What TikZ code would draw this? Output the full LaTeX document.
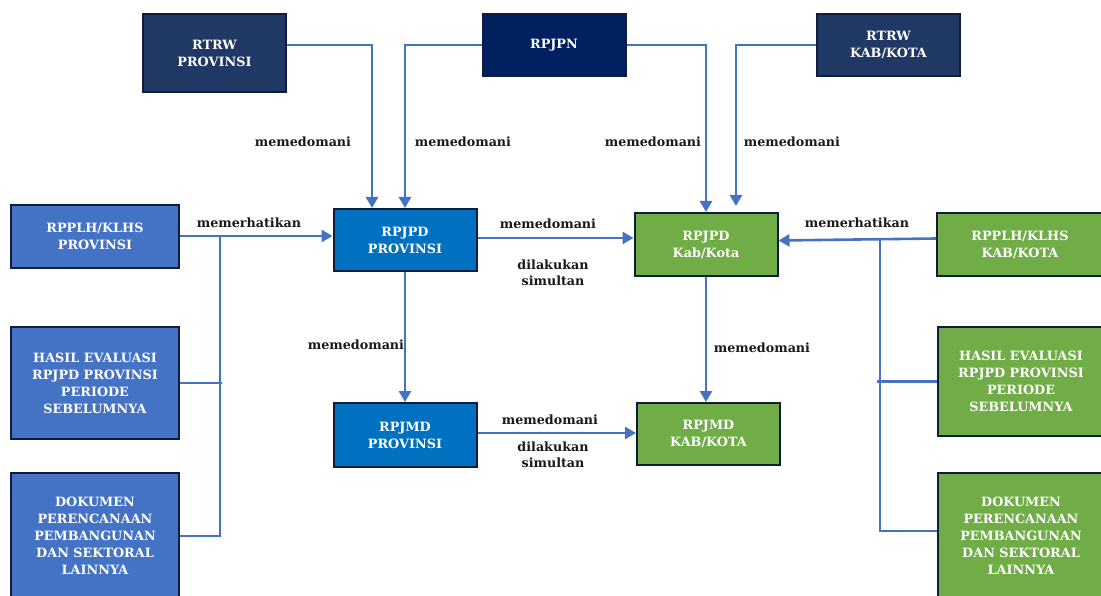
\documentclass[tikz,border=0pt]{standalone}
\usepackage{fontspec}
\setmainfont{DejaVu Serif}
\usetikzlibrary{arrows.meta,calc}
\definecolor{navy}{HTML}{203864}
\definecolor{navyb}{HTML}{002060}
\definecolor{bordc}{HTML}{0F1D3A}
\definecolor{blueL}{HTML}{4472C4}
\definecolor{blueM}{HTML}{0070C0}
\definecolor{greenB}{HTML}{70AD47}
\definecolor{lineC}{HTML}{4472C4}
\begin{document}
\begin{tikzpicture}[x=1pt,y=-1pt,
  box/.style={draw=bordc,line width=2pt,inner sep=0pt,align=center,text=white,
    font=\fontsize{12.8}{17}\selectfont\bfseries},
  lbl/.style={inner sep=0pt,align=center,text=black!90,font=\fontsize{12.7}{16}\selectfont\bfseries},
  conn/.style={draw=lineC,line width=2.6pt},
  arr/.style={conn,-{Triangle[length=11pt,width=12pt]}}]
\useasboundingbox (0,0) rectangle (1101,596);
\clip (0,0) rectangle (1101,596);
% boxes
\node[box,fill=navy,minimum width=143pt,minimum height=78pt] (rtrwp) at (214.5,53) {RTRW\\PROVINSI};
\node[box,fill=navyb,minimum width=143pt,minimum height=62pt] (rpjpn) at (554,45) {RPJPN};
\node[box,fill=navy,minimum width=143pt,minimum height=62pt] (rtrwk) at (888.5,45) {RTRW\\KAB/KOTA};
\node[box,fill=blueL,minimum width=168pt,minimum height=63pt] (rpplhp) at (95,236.5) {RPPLH/KLHS\\PROVINSI};
\node[box,fill=blueM,minimum width=143pt,minimum height=62pt] (rpjpdp) at (405,240) {RPJPD\\PROVINSI};
\node[box,fill=greenB,minimum width=143pt,minimum height=63pt] (rpjpdk) at (706,244.5) {RPJPD\\Kab/Kota};
\node[box,fill=greenB,minimum width=166pt,minimum height=63pt] (rpplhk) at (1020,244.5) {RPPLH/KLHS\\KAB/KOTA};
\node[box,fill=blueL,minimum width=168pt,minimum height=112pt] (hasilp) at (95,383) {HASIL EVALUASI\\RPJPD PROVINSI\\PERIODE\\SEBELUMNYA};
\node[box,fill=blueL,minimum width=168pt,minimum height=126pt] (dokp) at (95,536) {DOKUMEN\\PERENCANAAN\\PEMBANGUNAN\\DAN SEKTORAL\\LAINNYA};
\node[box,fill=blueM,minimum width=143pt,minimum height=64pt] (rpjmdp) at (405,435) {RPJMD\\PROVINSI};
\node[box,fill=greenB,minimum width=143pt,minimum height=62pt] (rpjmdk) at (708.5,434) {RPJMD\\KAB/KOTA};
\node[box,fill=greenB,minimum width=166pt,minimum height=109pt] (hasilk) at (1021,381.5) {HASIL EVALUASI\\RPJPD PROVINSI\\PERIODE\\SEBELUMNYA};
\node[box,fill=greenB,minimum width=166pt,minimum height=126pt] (dokk) at (1021,536) {DOKUMEN\\PERENCANAAN\\PEMBANGUNAN\\DAN SEKTORAL\\LAINNYA};
% connectors top
\draw[arr] ([yshift=8pt]rtrwp.east) -| ([xshift=-33pt]rpjpdp.north);
\draw[arr] (rpjpn.west) -| (rpjpdp.north);
\draw[arr] (rpjpn.east) -| (rpjpdk.north);
\draw[arr] (rtrwk.west) -| ([xshift=30pt,yshift=6pt]rpjpdk.north);
% left side
\draw[arr] ([yshift=0.5pt]rpplhp.east) -- ([yshift=4pt]rpjpdp.west);
\coordinate (busL) at (220,236);
\draw[conn] (busL) |- (dokp.east);
\draw[conn] (hasilp.east) -- ([xshift=2pt]busL |- hasilp.east);
% middle
\coordinate (m1) at ([yshift=2pt]rpjpdp.east);
\draw[arr] (m1) -- (rpjpdk.west |- m1);
\draw[arr] (rpjpdp.south) -- (rpjmdp.north);
\coordinate (m2) at ([yshift=2pt]rpjmdp.east);
\draw[arr] (m2) -- (rpjmdk.west |- m2);
\draw[arr] (rpjpdk.south) -- (rpjpdk.south |- rpjmdk.north);
% right side
\draw[arr] ([yshift=6pt]rpplhk.west) -- ([yshift=4pt]rpjpdk.east);
\coordinate (busR) at (880,238.5);
\coordinate (dkw) at ([yshift=5pt]dokk.west);
\draw[conn] (busR) |- (dkw);
\draw[conn] ([xshift=-3pt]busR |- hasilk.west) -- (hasilk.west);
% labels
\node[lbl] (l1) at (303,142) {memedomani};
\node[lbl] (l2) at (463,142) {memedomani};
\node[lbl] (l3) at (653,142) {memedomani};
\node[lbl] (l4) at (792,142) {memedomani};
\node[lbl] (l5) at (249,223) {memerhatikan};
\node[lbl] (l6) at (548,224) {memedomani};
\node[lbl] (l7) at (553,273) {dilakukan\\simultan};
\node[lbl] (l8) at (857,223) {memerhatikan};
\node[lbl] (l9) at (356,345) {memedomani};
\node[lbl] (l10) at (550,420) {memedomani};
\node[lbl] (l11) at (553,455) {dilakukan\\simultan};
\node[lbl] (l12) at (762,348) {memedomani};
\end{tikzpicture}
\end{document}
